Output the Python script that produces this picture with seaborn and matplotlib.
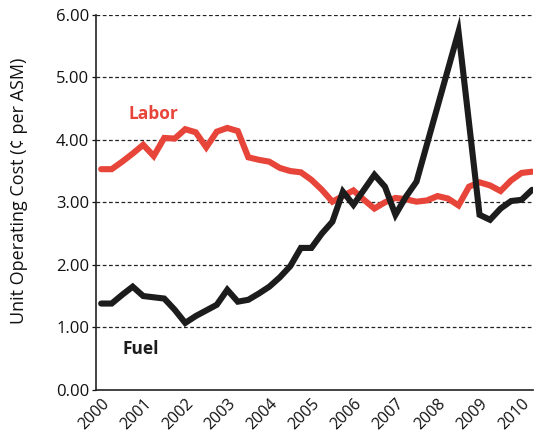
import matplotlib
matplotlib.use("Agg")
import matplotlib.pyplot as plt
import seaborn as sns
import numpy as np
import pandas as pd

# quarterly data, 2000 Q1 .. 2010 Q2
quarters = [2000 + i / 4 for i in range(42)]
fuel = [1.38, 1.38, 1.52, 1.65, 1.50, 1.48, 1.46, 1.28, 1.07, 1.18,
        1.27, 1.36, 1.60, 1.41, 1.44, 1.54, 1.65, 1.80, 1.98, 2.27,
        2.27, 2.50, 2.69, 3.17, 2.96, 3.20, 3.44, 3.25, 2.80, 3.09,
        3.33, 3.93, 4.53, 5.13, 5.73, 4.27, 2.80, 2.72, 2.90, 3.02,
        3.04, 3.20]
labor = [3.53, 3.53, 3.65, 3.78, 3.92, 3.74, 4.03, 4.02, 4.17, 4.12,
         3.88, 4.13, 4.19, 4.14, 3.72, 3.68, 3.65, 3.55, 3.50, 3.48,
         3.36, 3.20, 3.01, 3.10, 3.19, 3.04, 2.90, 3.00, 3.07, 3.05,
         3.01, 3.03, 3.10, 3.06, 2.95, 3.25, 3.32, 3.27, 3.18, 3.35,
         3.47, 3.49]
years = list(range(2000, 2011))
yticks = [0, 1, 2, 3, 4, 5, 6]
series_names = ["Labor", "Fuel"]

df = pd.DataFrame({
    "quarter": quarters * 2,
    "cost": labor + fuel,
    "series": ["Labor"] * len(labor) + ["Fuel"] * len(fuel),
})

sns.set_style("white")
plt.rcParams["font.family"] = ["Open Sans", "DejaVu Sans"]

fig = plt.figure(figsize=(5.34, 4.36), dpi=100)
ax = fig.add_axes([0.18, 0.106, 0.818, 0.86])

for y in yticks[1:]:
    ax.axhline(y, color="#222222", lw=0.9, ls=(0, (3, 2)), zorder=0)

sns.lineplot(data=df, x="quarter", y="cost", hue="series",
             palette={"Labor": "#E8453A", "Fuel": "#1c1c1c"},
             hue_order=series_names, linewidth=4.4, legend=False, ax=ax,
             solid_joinstyle="miter")

ax.set_xlim(1999.88, 2010.27)
ax.set_ylim(0, 6)
ax.set_yticks(yticks)
ax.set_yticklabels([f"{v:.2f}" for v in yticks], fontsize=12)
ax.set_xticks(years)
ax.set_xticklabels([str(y) for y in years], rotation=45, ha="right",
                   rotation_mode="anchor", fontsize=11.5)
ax.tick_params(axis="y", length=3, width=0.9, pad=2, colors="#111111",
               direction="out", left=True)
ax.tick_params(axis="x", length=0, pad=4, colors="#111111")
ax.set_xlabel("")
ax.set_ylabel("Unit Operating Cost (¢ per ASM)", fontsize=13, color="#111111")
ax.yaxis.set_label_coords(-0.155, 0.53)

for s in ["top", "right"]:
    ax.spines[s].set_visible(False)
for s in ["left", "bottom"]:
    ax.spines[s].set_color("#222222")
    ax.spines[s].set_linewidth(1.2)

ax.text(2000.65, 4.42, "Labor", color="#E8453A", fontsize=12.5,
        fontweight="bold", ha="left", va="center")
ax.text(2000.5, 0.66, "Fuel", color="#1c1c1c", fontsize=12.5,
        fontweight="bold", ha="left", va="center")

fig.savefig("out.png", dpi=100)
